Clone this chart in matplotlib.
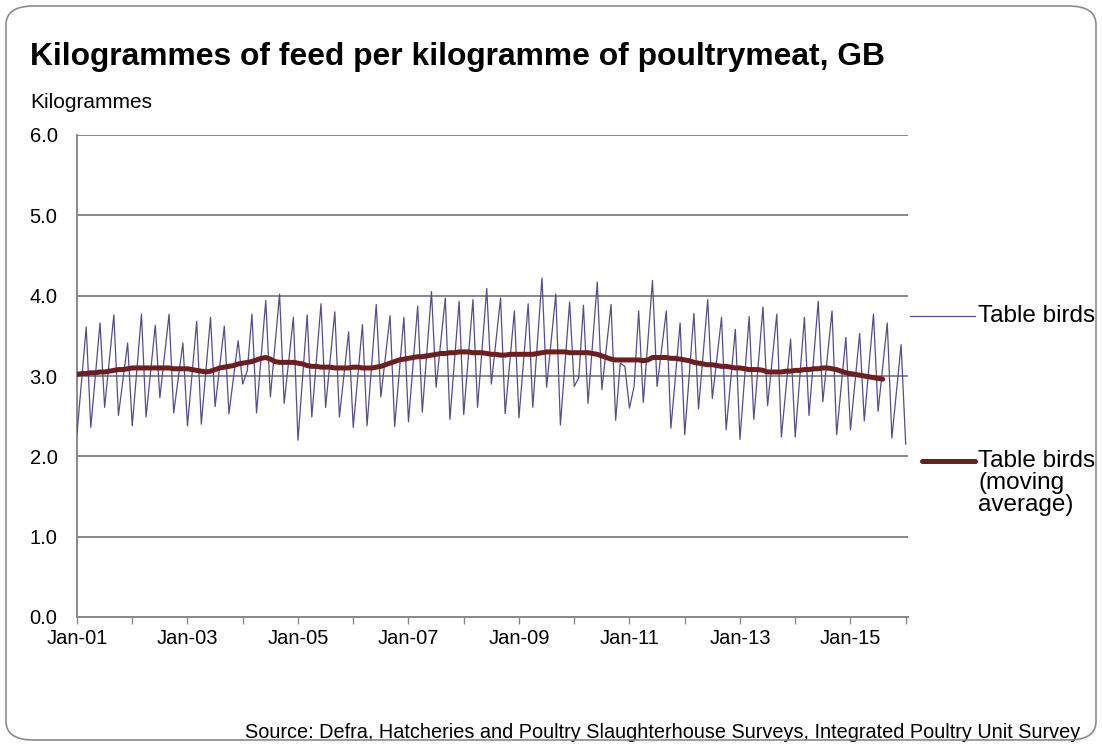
import matplotlib
matplotlib.use("Agg")
import matplotlib.pyplot as plt
from matplotlib.patches import FancyBboxPatch
from matplotlib.lines import Line2D
import numpy as np

plt.rcParams['font.family'] = ['Liberation Sans', 'DejaVu Sans']

title = "Kilogrammes of feed per kilogramme of poultrymeat, GB"
y_label = "Kilogrammes"
source = "Source: Defra, Hatcheries and Poultry Slaughterhouse Surveys, Integrated Poultry Unit Survey"
series_names = ["Table birds", "Table birds\n(moving\naverage)"]
tick_labels = ["Jan-01", "Jan-03", "Jan-05", "Jan-07", "Jan-09", "Jan-11", "Jan-13", "Jan-15"]

# Monthly values, Jan 2001 .. Jan 2016
table_birds = [
    2.28, 2.95, 3.61, 2.36, 3.01, 3.66, 2.61, 3.18, 3.76, 2.51, 2.96, 3.41,
    2.38, 3.08, 3.77, 2.49, 3.06, 3.63, 2.73, 3.25, 3.77, 2.54, 2.98, 3.41,
    2.38, 3.03, 3.68, 2.40, 3.07, 3.73, 2.62, 3.12, 3.62, 2.53, 2.98, 3.44,
    2.90, 3.07, 3.77, 2.54, 3.24, 3.94, 2.74, 3.38, 4.02, 2.66, 3.20, 3.73,
    2.20, 2.98, 3.76, 2.49, 3.20, 3.90, 2.61, 3.20, 3.80, 2.49, 3.02, 3.55,
    2.36, 3.00, 3.64, 2.38, 3.13, 3.89, 2.74, 3.25, 3.75, 2.37, 3.05, 3.73,
    2.43, 3.15, 3.87, 2.55, 3.30, 4.05, 2.86, 3.42, 3.97, 2.46, 3.20, 3.93,
    2.52, 3.24, 3.95, 2.61, 3.35, 4.09, 2.90, 3.44, 3.97, 2.53, 3.17, 3.81,
    2.48, 3.19, 3.90, 2.61, 3.42, 4.22, 2.86, 3.44, 4.02, 2.39, 3.16, 3.92,
    2.87, 2.98, 3.88, 2.66, 3.42, 4.17, 2.83, 3.36, 3.89, 2.45, 3.16, 3.12,
    2.60, 2.87, 3.81, 2.67, 3.43, 4.19, 2.87, 3.34, 3.81, 2.35, 3.00, 3.66,
    2.27, 3.03, 3.78, 2.59, 3.27, 3.95, 2.72, 3.22, 3.73, 2.33, 2.95, 3.58,
    2.21, 2.98, 3.74, 2.46, 3.16, 3.86, 2.63, 3.20, 3.77, 2.24, 2.85, 3.46,
    2.24, 2.98, 3.73, 2.51, 3.22, 3.93, 2.68, 3.25, 3.81, 2.27, 2.88, 3.48,
    2.33, 2.93, 3.53, 2.44, 3.10, 3.77, 2.56, 3.11, 3.66, 2.23, 2.81, 3.39,
    2.15,
]

moving_average = [
    3.02, 3.03, 3.03, 3.04, 3.04, 3.05, 3.05, 3.06, 3.07, 3.08, 3.08, 3.09,
    3.10, 3.10, 3.10, 3.10, 3.10, 3.10, 3.10, 3.10, 3.10, 3.09, 3.09, 3.09,
    3.09, 3.08, 3.07, 3.06, 3.05, 3.06, 3.08, 3.10, 3.11, 3.12, 3.13, 3.15,
    3.16, 3.17, 3.18, 3.20, 3.22, 3.23, 3.21, 3.18, 3.17, 3.17, 3.17, 3.17,
    3.16, 3.15, 3.13, 3.12, 3.12, 3.11, 3.11, 3.11, 3.10, 3.10, 3.10, 3.10,
    3.11, 3.11, 3.10, 3.10, 3.10, 3.11, 3.12, 3.14, 3.16, 3.18, 3.20, 3.21,
    3.22, 3.23, 3.24, 3.24, 3.25, 3.26, 3.27, 3.28, 3.28, 3.29, 3.29, 3.30,
    3.30, 3.30, 3.29, 3.29, 3.29, 3.28, 3.27, 3.27, 3.26, 3.26, 3.27, 3.27,
    3.27, 3.27, 3.27, 3.27, 3.28, 3.29, 3.30, 3.30, 3.30, 3.30, 3.30, 3.29,
    3.29, 3.29, 3.29, 3.29, 3.28, 3.27, 3.25, 3.23, 3.21, 3.20, 3.20, 3.20,
    3.20, 3.20, 3.20, 3.19, 3.20, 3.23, 3.23, 3.23, 3.23, 3.22, 3.22, 3.21,
    3.20, 3.19, 3.17, 3.16, 3.15, 3.14, 3.14, 3.13, 3.12, 3.12, 3.11, 3.10,
    3.10, 3.09, 3.08, 3.08, 3.08, 3.07, 3.05, 3.05, 3.05, 3.05, 3.06, 3.06,
    3.07, 3.07, 3.08, 3.08, 3.09, 3.09, 3.10, 3.10, 3.09, 3.08, 3.06, 3.04,
    3.03, 3.02, 3.01, 3.00, 2.99, 2.98, 2.97, 2.96,
]

y_ticks = [0.0, 1.0, 2.0, 3.0, 4.0, 5.0, 6.0]

fig = plt.figure(figsize=(11.02, 7.46), dpi=100)
fig.patch.set_facecolor("white")

# rounded border
border = FancyBboxPatch((6 / 1102, 6 / 746), 1 - 12 / 1102, 1 - 12 / 746,
                        boxstyle="round,pad=0,rounding_size=0.025",
                        transform=fig.transFigure, facecolor="none",
                        edgecolor="#8c8c8c", linewidth=1.2, zorder=5)
fig.patches.append(border)

ax = fig.add_axes([77 / 1102, 1 - 617 / 746, (908 - 77) / 1102, (617 - 135) / 746])
ax.set_facecolor("none")

x1 = np.arange(len(table_birds))
x2 = np.arange(len(moving_average))
purple = "#5a4a8e"
maroon = "#6b1f1f"
ax.plot(x1, table_birds, color=purple, linewidth=0.9, zorder=3)
ax.plot(x2, moving_average, color=maroon, linewidth=3.6, solid_capstyle="round", zorder=4)

ax.set_xlim(0, 180.5)
ax.set_ylim(0, 6)
ax.set_yticks(y_ticks)
ax.set_yticklabels([f"{v:.1f}" for v in y_ticks])
ax.yaxis.grid(True, color="#8a8a8a", linewidth=1.4)
ax.set_axisbelow(True)
ax.tick_params(axis="y", length=0, labelsize=14.5, pad=14, colors="black")

ax.set_xticks(np.arange(0, 181, 12), minor=True)
ax.set_xticks(np.arange(0, 181, 24))
ax.set_xticklabels(tick_labels)
ax.tick_params(axis="x", which="both", length=5, width=1, color="#8a8a8a",
               labelsize=14.5, pad=4)

for s in ["top", "right"]:
    ax.spines[s].set_visible(False)
ax.spines["left"].set_color("#8a8a8a")
ax.spines["left"].set_linewidth(1.4)
ax.spines["bottom"].set_color("#8a8a8a")
ax.spines["bottom"].set_linewidth(1.4)

fig.text(30 / 1102, 1 - 57 / 746, title, fontsize=22.9, fontweight="bold",
         va="center", ha="left")
fig.text(30 / 1102, 1 - 103 / 746, y_label, fontsize=15, va="center", ha="left")
fig.text(1080 / 1102, 1 - 733 / 746, source, fontsize=14.3, va="center", ha="right")

# legend
fig.add_artist(Line2D([910 / 1102, 975 / 1102], [1 - 316 / 746, 1 - 316 / 746],
                      transform=fig.transFigure, color=purple, linewidth=0.9))
fig.text(978 / 1102, 1 - 316 / 746, series_names[0], fontsize=17.5, va="center", ha="left")
fig.add_artist(Line2D([922 / 1102, 975 / 1102], [1 - 461 / 746, 1 - 461 / 746],
                      transform=fig.transFigure, color=maroon, linewidth=3.6,
                      solid_capstyle="round"))
fig.text(978 / 1102, 1 - 450 / 746, series_names[1], fontsize=17.5, va="top", ha="left",
         linespacing=1.0)

fig.savefig("out.png", dpi=100)
